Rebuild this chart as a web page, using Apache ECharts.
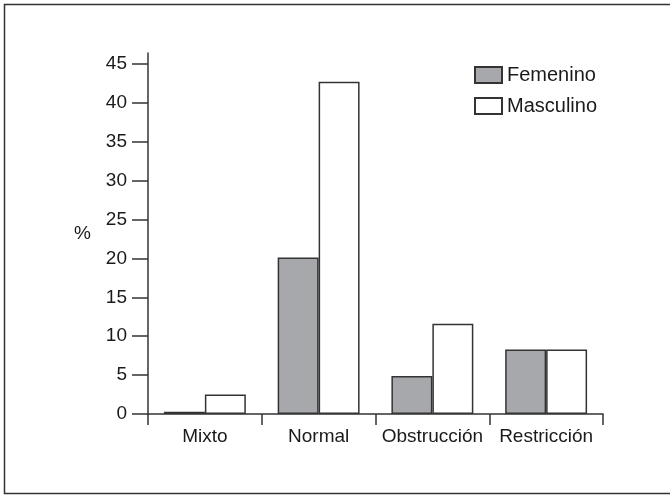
<!DOCTYPE html>
<html>
<head>
<meta charset="utf-8">
<script src="https://cdn.jsdelivr.net/npm/echarts@6/dist/echarts.min.js"></script>
<style>
  html, body { margin: 0; padding: 0; background: #fff; }
  #container { width: 670px; height: 495px; }
</style>
</head>
<body>
<div id="container"></div>
<script>
// datos
var categorias = ['Mixto', 'Normal', 'Obstrucción', 'Restricción'];
var femenino = [0.3, 20.1, 4.9, 8.3];
var masculino = [2.5, 42.7, 11.6, 8.3];
var ticksY = [0, 5, 10, 15, 20, 25, 30, 35, 40, 45];

var fuente = "'Liberation Sans', Arial, sans-serif";
var myChart = echarts.init(document.getElementById('container'));

var option = {
    animation: false,
    backgroundColor: '#fff',
    textStyle: { fontFamily: fuente },
    graphic: [{
        type: 'rect',
        shape: { x: 4.5, y: 4.5, width: 670, height: 489 },
        style: { fill: null, stroke: '#333', lineWidth: 1.5 },
        silent: true
    }],
    legend: {
        data: ['Femenino', 'Masculino'],
        orient: 'vertical',
        left: 474,
        top: 65,
        padding: 0,
        icon: 'rect',
        itemWidth: 27,
        itemHeight: 16,
        itemGap: 11,
        textStyle: { fontSize: 20, color: '#1a1a1a', fontFamily: fuente }
    },
    grid: {
        left: 148,
        right: 67,
        top: 53,
        bottom: 81
    },
    xAxis: {
        type: 'category',
        data: categorias,
        axisLine: { lineStyle: { color: '#333', width: 1.5 } },
        axisTick: { show: true, interval: 0, length: 11, lineStyle: { color: '#333', width: 1.5 } },
        axisLabel: { interval: 0, fontSize: 19, color: '#1a1a1a', margin: 13 }
    },
    yAxis: {
        type: 'value',
        min: 0,
        max: 46.4,
        name: '%',
        nameLocation: 'middle',
        nameRotate: 0,
        nameGap: 57,
        nameTextStyle: { fontSize: 19, color: '#1a1a1a', padding: [0, 0, 8, 0] },
        splitLine: { show: false },
        axisLine: { show: true, lineStyle: { color: '#333', width: 1.5 } },
        axisTick: { show: true, length: 16, customValues: ticksY, lineStyle: { color: '#333', width: 1.5 } },
        axisLabel: { fontSize: 19, color: '#1a1a1a', margin: 21, customValues: ticksY }
    },
    series: [{
        name: 'Femenino',
        type: 'bar',
        data: femenino,
        barGap: '0%',
        barCategoryGap: '28%',
        itemStyle: { color: '#a7a8ab', borderColor: '#333', borderWidth: 1.5 }
    }, {
        name: 'Masculino',
        type: 'bar',
        data: masculino,
        itemStyle: { color: '#fff', borderColor: '#333', borderWidth: 1.5 }
    }]
};

myChart.setOption(option);
</script>
</body>
</html>
